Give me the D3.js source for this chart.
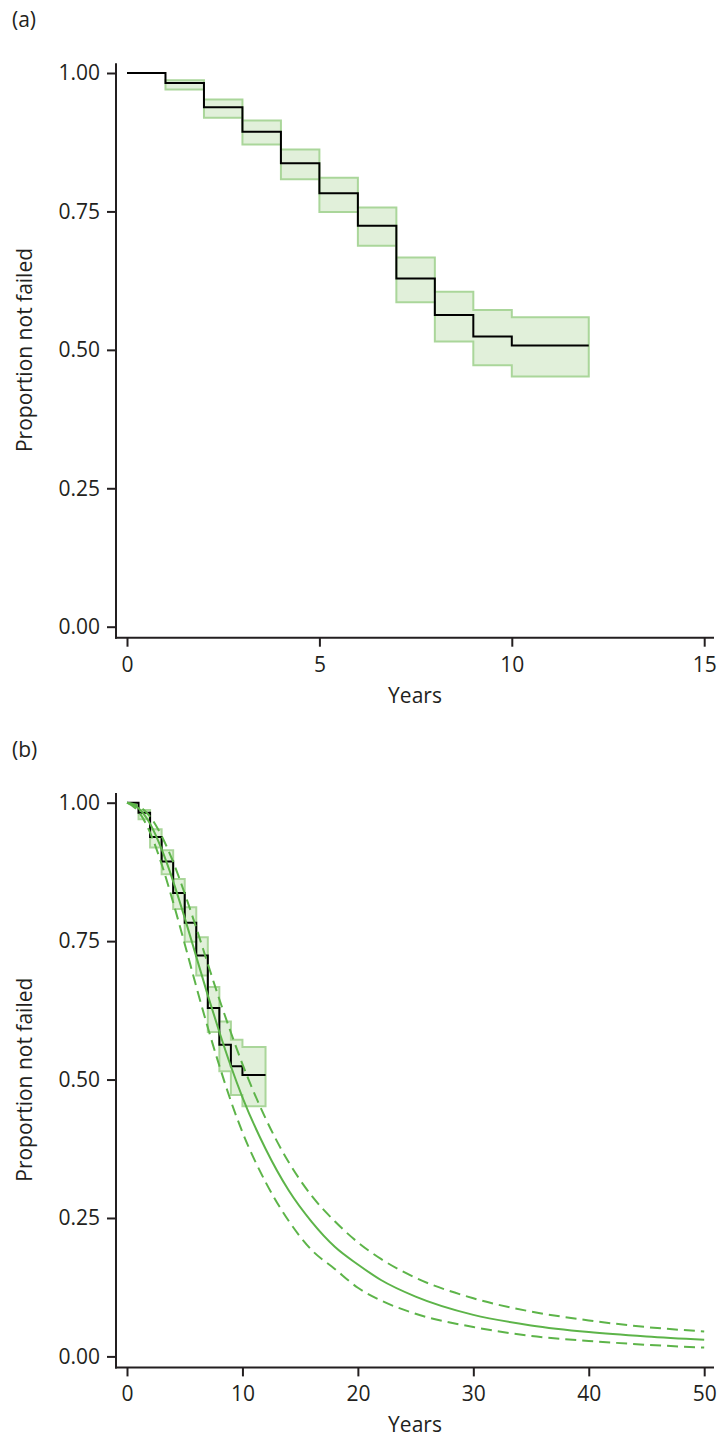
<!DOCTYPE html>
<html><head><meta charset="utf-8">
<script src="https://cdn.jsdelivr.net/npm/d3@7"></script>
<style>
html,body{margin:0;padding:0;background:#fff;}
svg{display:block;font-family:"Open Sans","Noto Sans",sans-serif;}
</style></head>
<body><svg id="chart" width="718" height="1437"></svg>
<script>
// ---- Data ----
const kmTimes = [0, 1, 2, 3, 4, 5, 6, 7, 8, 9, 10, 12];
const kmSurv  = [1.000, 0.982, 0.938, 0.894, 0.837, 0.783, 0.724, 0.629, 0.563, 0.524, 0.508, 0.508];
const ciTimes = [1, 2, 3, 4, 5, 6, 7, 8, 9, 10, 12];
const ciUpper = [0.987, 0.952, 0.914, 0.862, 0.811, 0.757, 0.667, 0.605, 0.572, 0.559, 0.559];
const ciLower = [0.970, 0.919, 0.871, 0.808, 0.749, 0.688, 0.586, 0.515, 0.472, 0.452, 0.452];
const fitTimes = [0, 1, 2, 3, 4, 5, 6, 7, 8, 9, 10, 12, 14, 16, 18, 20, 22, 25, 30, 35, 40, 45, 50];
const fitSurv  = [1.000, 0.990, 0.962, 0.916, 0.858, 0.792, 0.722, 0.652, 0.586, 0.524, 0.468, 0.375, 0.300, 0.243, 0.198, 0.166, 0.138, 0.108, 0.075, 0.056, 0.044, 0.036, 0.030];
const fitUpper = [1.000, 0.994, 0.975, 0.940, 0.893, 0.836, 0.774, 0.709, 0.645, 0.585, 0.528, 0.430, 0.351, 0.290, 0.244, 0.206, 0.176, 0.142, 0.105, 0.081, 0.065, 0.053, 0.045];
const fitLower = [1.000, 0.984, 0.946, 0.889, 0.820, 0.745, 0.668, 0.594, 0.525, 0.461, 0.405, 0.315, 0.245, 0.192, 0.158, 0.124, 0.101, 0.077, 0.053, 0.037, 0.028, 0.021, 0.016];
const yTicks = [0, 0.25, 0.5, 0.75, 1];
const xTicksA = [0, 5, 10, 15];
const xTicksB = [0, 10, 20, 30, 40, 50];
const panelLabels = ["(a)", "(b)"];
const yTitle = "Proportion not failed";
const xTitle = "Years";

// ---- Styles ----
const axisColor = "#231f20";
const greenLine = "#5db449";
const bandFill = "#e1f0da";
const bandStroke = "#aad69a";
const fontSize = 21;

const svg = d3.select("#chart");

function panel(offsetY, xMax, xTicks, label, withFit) {
  const g = svg.append("g").attr("transform", `translate(0,${offsetY})`);
  const x = d3.scaleLinear().domain([0, xMax]).range([127, 704.2]);
  const y = d3.scaleLinear().domain([0, 1]).range([626.7, 73]);
  const axX = 116, axY = 637.7;

  // panel label
  g.append("text").attr("x", 12).attr("y", 27).attr("font-size", fontSize)
    .attr("fill", axisColor).text(label);

  // CI band
  const band = ciTimes.map((t, i) => ({t, lo: ciLower[i], hi: ciUpper[i]}));
  g.append("path").datum(band)
    .attr("d", d3.area().curve(d3.curveStepAfter).x(d => x(d.t)).y0(d => y(d.lo)).y1(d => y(d.hi)))
    .attr("fill", bandFill).attr("stroke", bandStroke).attr("stroke-width", 2);

  // KM step line
  const km = kmTimes.map((t, i) => ({t, s: kmSurv[i]}));
  g.append("path").datum(km)
    .attr("d", d3.line().curve(d3.curveStepAfter).x(d => x(d.t)).y(d => y(d.s)))
    .attr("fill", "none").attr("stroke", "#000").attr("stroke-width", 2);

  if (withFit) {
    const mk = arr => fitTimes.map((t, i) => ({t, s: arr[i]}));
    const ln = d3.line().curve(d3.curveMonotoneX).x(d => x(d.t)).y(d => y(d.s));
    [[fitUpper, "11,6"], [fitLower, "11,6"], [fitSurv, null]].forEach(([arr, dash]) => {
      const p = g.append("path").datum(mk(arr)).attr("d", ln)
        .attr("fill", "none").attr("stroke", greenLine).attr("stroke-width", 2);
      if (dash) p.attr("stroke-dasharray", dash);
    });
  }

  // axes lines
  g.append("line").attr("x1", axX).attr("x2", axX).attr("y1", 63.3).attr("y2", axY + 1)
    .attr("stroke", axisColor).attr("stroke-width", 2);
  g.append("line").attr("x1", axX - 1).attr("x2", 714).attr("y1", axY).attr("y2", axY)
    .attr("stroke", axisColor).attr("stroke-width", 2);

  // y axis ticks
  const ya = g.append("g").attr("transform", `translate(${axX},0)`)
    .call(d3.axisLeft(y).tickValues(yTicks).tickFormat(d3.format(".2f")).tickSize(9).tickPadding(7));
  ya.select(".domain").remove();
  ya.selectAll("line").attr("stroke", axisColor).attr("stroke-width", 2);
  ya.selectAll("text").attr("font-size", fontSize).attr("font-family", "Open Sans").attr("fill", axisColor);

  // x axis ticks
  const xa = g.append("g").attr("transform", `translate(0,${axY})`)
    .call(d3.axisBottom(x).tickValues(xTicks).tickFormat(d3.format("d")).tickSize(9).tickPadding(10));
  xa.select(".domain").remove();
  xa.selectAll("line").attr("stroke", axisColor).attr("stroke-width", 2);
  xa.selectAll("text").attr("font-size", fontSize).attr("font-family", "Open Sans").attr("fill", axisColor);

  // titles
  g.append("text").attr("text-anchor", "middle").attr("font-size", fontSize).attr("fill", axisColor)
    .attr("transform", `translate(32,350) rotate(-90)`).text(yTitle);
  g.append("text").attr("text-anchor", "middle").attr("font-size", fontSize).attr("fill", axisColor)
    .attr("x", 415).attr("y", 702.5).text(xTitle);
}

panel(0, 15, xTicksA, panelLabels[0], false);
panel(729.7, 50, xTicksB, panelLabels[1], true);
</script></body></html>
